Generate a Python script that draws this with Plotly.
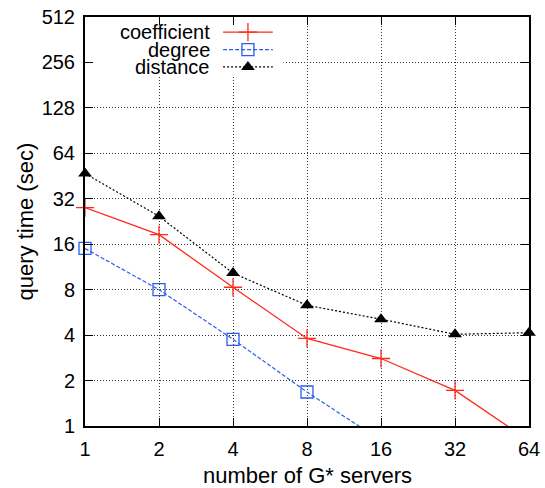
import plotly.graph_objects as go

# Number of G* servers and measured query times (seconds)
servers = [1, 2, 4, 8, 16, 32, 64]
coefficient = [28.0, 18.5, 8.3, 3.8, 2.8, 1.72, 0.8]
degree = [15.0, 8.0, 3.75, 1.68, 0.8]
distance = [47.0, 24.5, 10.3, 6.3, 5.1, 4.05, 4.15]

x_ticks = [1, 2, 4, 8, 16, 32, 64]
y_ticks = [1, 2, 4, 8, 16, 32, 64, 128, 256, 512]

series_names = ["coefficient", "degree", "distance"]
RED = "#ff2a1a"
BLUE = "#2a5cf0"
BLACK = "#000000"
FONT = "Liberation Sans, Arial, Helvetica, sans-serif"
Y_MIN = 1

styles = {
    "coefficient": dict(
        line=dict(color=RED, width=1.3),
        marker=dict(symbol="cross-thin-open", size=13, color=RED,
                    line=dict(color=RED, width=1.3))),
    "degree": dict(
        line=dict(color=BLUE, width=1.2, dash="4px,2px"),
        marker=dict(symbol="square-open", size=12, color=BLUE,
                    line=dict(color=BLUE, width=1.3))),
    "distance": dict(
        line=dict(color=BLACK, width=1.2, dash="2px,2px"),
        marker=dict(symbol="triangle-up", size=12, color=BLACK)),
}
values = {"coefficient": coefficient, "degree": degree, "distance": distance}

fig = go.Figure()

# Lines (clipped to the plot area)
for name in series_names:
    ys = values[name]
    fig.add_trace(go.Scatter(
        x=servers[:len(ys)], y=ys, mode="lines", name=name,
        line=styles[name]["line"], hoverinfo="skip",
    ))

# Markers for points inside the y range, drawn unclipped so edge points show whole
for name in series_names:
    ys = values[name]
    pts = [(x, y) for x, y in zip(servers, ys) if y >= Y_MIN]
    fig.add_trace(go.Scatter(
        x=[p[0] for p in pts], y=[p[1] for p in pts], mode="markers", name=name,
        marker=styles[name]["marker"], cliponaxis=False,
    ))

# Legend key on an overlay axis in plot-fraction units
fig.add_trace(go.Scatter(
    x=[0.003, 0.447, 0.447, 0.003, 0.003], y=[0.857, 0.857, 0.996, 0.996, 0.857],
    xaxis="x2", yaxis="y2", mode="lines", fill="toself", fillcolor="white",
    line=dict(width=0, color="white"), hoverinfo="skip",
))
key_rows = [0.963, 0.920, 0.878]
for name, ky in zip(series_names, key_rows):
    fig.add_trace(go.Scatter(
        x=[0.311, 0.423], y=[ky, ky], mode="lines", xaxis="x2", yaxis="y2",
        line=styles[name]["line"], hoverinfo="skip",
    ))
    fig.add_trace(go.Scatter(
        x=[0.367], y=[ky], mode="markers", xaxis="x2", yaxis="y2",
        marker=styles[name]["marker"], hoverinfo="skip",
    ))
    fig.add_annotation(
        x=0.286, y=ky, xref="x2", yref="y2", text=name, showarrow=False,
        xanchor="right", yanchor="middle",
        font=dict(family=FONT, size=20, color="black"),
    )

axis_common = dict(
    type="log", showline=True, linecolor="black", linewidth=2, mirror="ticks",
    ticks="inside", ticklen=8, tickwidth=1.2, tickcolor="black",
    showgrid=True, gridcolor="#333333", gridwidth=1, griddash="1px,2px",
    zeroline=False, automargin=False,
    tickfont=dict(family=FONT, size=20, color="black"),
)

fig.add_annotation(
    text="number of G* servers", xref="paper", yref="paper",
    x=0.5, y=-0.122, xanchor="center", yanchor="middle", showarrow=False,
    font=dict(family=FONT, size=22, color="black"),
)
fig.add_annotation(
    text="query time (sec)", xref="paper", yref="paper",
    x=-0.133, y=0.5, xanchor="center", yanchor="middle", showarrow=False,
    textangle=-90, font=dict(family=FONT, size=22, color="black"),
)

fig.update_layout(
    width=545, height=488,
    margin=dict(l=85, r=16, t=17, b=62, autoexpand=False),
    paper_bgcolor="white", plot_bgcolor="white",
    showlegend=False,
    xaxis=dict(axis_common, range=[0, 1.80618], tickvals=x_ticks,
               ticktext=[str(v) for v in x_ticks], ticklabelstandoff=4),
    yaxis=dict(axis_common, range=[0, 2.70927], tickvals=y_ticks,
               ticktext=[str(v) for v in y_ticks], ticklabelstandoff=4),
    xaxis2=dict(overlaying="x", range=[0, 1], visible=False, showgrid=False,
                automargin=False),
    yaxis2=dict(overlaying="y", range=[0, 1], visible=False, showgrid=False,
                automargin=False),
)

fig.write_html("out.html")
